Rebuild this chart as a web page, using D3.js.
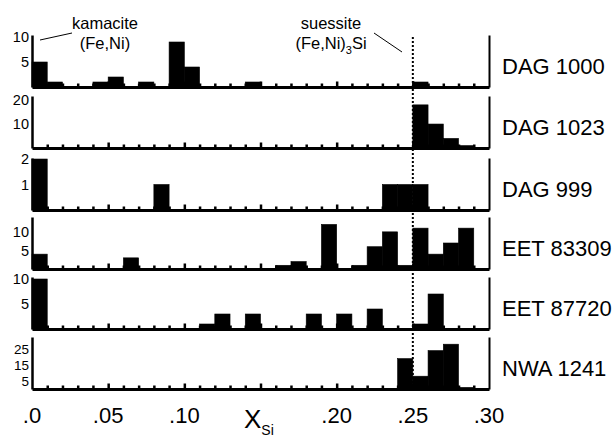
<!DOCTYPE html>
<html>
<head>
<meta charset="utf-8">
<script src="https://cdn.jsdelivr.net/npm/d3@7"></script>
<style>
  body { margin: 0; background: #fff; }
  svg { display: block; }
  svg text { font-family: "Liberation Sans", Arial, Helvetica, sans-serif; }
</style>
</head>
<body>
<div id="chart"></div>
<script>
// sample names, top to bottom
const samples = ["DAG 1000", "DAG 1023", "DAG 999", "EET 83309", "EET 87720", "NWA 1241"];

// counts per 0.01 bin of X_Si, from .00 up to .30
const dag1000  = [5,1,0,0,1,2,0,1,0,9, 4,0,0,0,1,0,0,0,0,0, 0,0,0,0,0,1,0,0,0,0];
const dag1023  = [0,0,0,0,0,0,0,0,0,0, 0,0,0,0,0,0,0,0,0,0, 0,0,0,0,0,18,10,4,1,0];
const dag999   = [2,0,0,0,0,0,0,0,1,0, 0,0,0,0,0,0,0,0,0,0, 0,0,0,1,1,1,0,0,0,0];
const eet83309 = [4,0,0,0,0,0,3,0,0,0, 0,0,0,0,0,0,1,2,0,12, 0,1,6,10,1,11,4,7,11,0];
const eet87720 = [10,0,0,0,0,0,0,0,0,0, 0,1,3,0,3,0,0,0,3,0, 3,0,4,0,0,1,7,0,0,0];
const nwa1241  = [0,0,0,0,0,0,0,0,0,0, 0,0,0,0,0,0,0,0,0,0, 0,0,0,0,19,8,24,28,1,0];
const counts = [dag1000, dag1023, dag999, eet83309, eet87720, nwa1241];

// y axis tick labels and top of each panel's count axis
const yTicks = [[5, 10], [10, 20], [1, 2], [5, 10], [5, 10], [5, 15, 25]];
const yMax = [10.4, 21.7, 2.04, 14, 10.4, 32.5];

// x axis
const binWidth = 0.01;
const xTickValues = [0, 0.05, 0.10, 0.20, 0.25, 0.30];
const xTickLabels = [".0", ".05", ".10", ".20", ".25", ".30"];
const suessiteX = 0.25;

const width = 616, height = 437;
const left = 32, right = 489;
const panelBase = [87, 148, 210, 269, 329, 389];
const panelH = 52;

const svg = d3.select("#chart").append("svg")
    .attr("width", width)
    .attr("height", height);

const x = d3.scaleLinear()
    .domain([0, 0.30])
    .range([left, right]);

// dotted line at suessite composition (behind the bars)
svg.append("line")
    .attr("x1", x(suessiteX)).attr("x2", x(suessiteX))
    .attr("y1", 37).attr("y2", panelBase[5])
    .attr("stroke", "#000")
    .attr("stroke-width", 2)
    .attr("stroke-dasharray", "2,2");

const minorTicks = d3.range(1, 30).map(i => i * binWidth).filter(v => Math.round(v * 100) % 5 !== 0);
const majorTicks = [0.05, 0.10, 0.15, 0.20, 0.25];

samples.forEach((name, p) => {
    const base = panelBase[p];
    const y = d3.scaleLinear()
        .domain([0, yMax[p]])
        .range([base, base - panelH]);

    const g = svg.append("g");

    // bars (thin stroke so neighbouring bins join up)
    g.selectAll("rect")
        .data(counts[p].map((c, i) => ({ x0: i * binWidth, c })).filter(d => d.c > 0))
        .enter()
        .append("rect")
        .attr("x", d => x(d.x0))
        .attr("y", d => y(d.c))
        .attr("width", x(binWidth) - x(0))
        .attr("height", d => y(0) - y(d.c))
        .attr("fill", "#000")
        .attr("stroke", "#000")
        .attr("stroke-width", 0.6);

    // bottom axis with small inward ticks at every bin edge
    const bottom = g.append("g")
        .attr("transform", `translate(0,${base})`)
        .call(d3.axisBottom(x).tickValues(minorTicks).tickSize(-3.5).tickSizeOuter(0).tickFormat(""));
    bottom.select(".domain").attr("stroke-width", 3);
    bottom.selectAll(".tick line").attr("stroke-width", 2.5);

    const major = g.append("g")
        .attr("transform", `translate(0,${base})`)
        .call(d3.axisBottom(x).tickValues(majorTicks).tickSize(-5.5).tickFormat(""));
    major.select(".domain").remove();
    major.selectAll(".tick line").attr("stroke-width", 2.5);

    // left axis
    const leftAx = g.append("g")
        .attr("transform", `translate(${left},0)`)
        .call(d3.axisLeft(y).tickValues(yTicks[p]).tickFormat(d3.format("d"))
            .tickSize(0).tickSizeOuter(0).tickPadding(3));
    leftAx.select(".domain").attr("stroke-width", 2.5);
    leftAx.selectAll("text")
        .attr("font-size", p === 5 ? 13.5 : 14.5)
        .attr("fill", "#000");

    // right frame line
    const rightAx = g.append("g")
        .attr("transform", `translate(${right},0)`)
        .call(d3.axisRight(y).tickValues([]).tickSizeOuter(0));
    rightAx.select(".domain").attr("stroke-width", 2);

    // sample name
    g.append("text")
        .attr("x", 502)
        .attr("y", base - 13)
        .attr("font-size", 22)
        .text(name);
});

// x tick labels under the bottom panel
svg.append("g").selectAll("text")
    .data(xTickValues)
    .enter()
    .append("text")
    .attr("x", d => x(d))
    .attr("y", 423)
    .attr("text-anchor", "middle")
    .attr("font-size", 22)
    .text((d, i) => xTickLabels[i]);

// axis title X_Si
const title = svg.append("text")
    .attr("x", 244)
    .attr("y", 428)
    .attr("font-size", 26);
title.append("tspan").text("X");
title.append("tspan").attr("font-size", 14).attr("dy", 7).text("Si");

// annotations
svg.append("text").attr("x", 105).attr("y", 29).attr("text-anchor", "middle")
    .attr("font-size", 16.5).text("kamacite");
svg.append("text").attr("x", 105).attr("y", 49).attr("text-anchor", "middle")
    .attr("font-size", 16.5).text("(Fe,Ni)");
svg.append("line")
    .attr("x1", 40).attr("y1", 40).attr("x2", 72).attr("y2", 33)
    .attr("stroke", "#000").attr("stroke-width", 1);

svg.append("text").attr("x", 331).attr("y", 29).attr("text-anchor", "middle")
    .attr("font-size", 16.5).text("suessite");
const sues = svg.append("text").attr("x", 331).attr("y", 49).attr("text-anchor", "middle")
    .attr("font-size", 16.5);
sues.append("tspan").text("(Fe,Ni)");
sues.append("tspan").attr("font-size", 11).attr("dy", 5).text("3");
sues.append("tspan").attr("dy", -5).text("Si");
svg.append("line")
    .attr("x1", 374).attr("y1", 33).attr("x2", 402).attr("y2", 52)
    .attr("stroke", "#000").attr("stroke-width", 1);
</script>
</body>
</html>
